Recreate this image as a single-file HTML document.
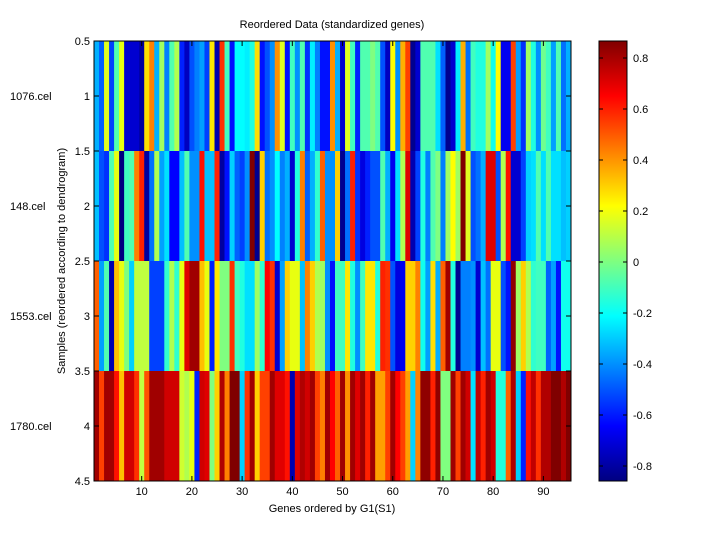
<!DOCTYPE html>
<html><head><meta charset="utf-8"><style>
html,body{margin:0;padding:0;background:#fff;}
svg text{font-family:"Liberation Sans",sans-serif;font-size:11px;fill:#000;}
</style></head><body>
<svg id="s" width="720" height="540" xmlns="http://www.w3.org/2000/svg">
<defs>
<linearGradient id="jet" x1="0" y1="1" x2="0" y2="0">
<stop offset="0" stop-color="#000080"/>
<stop offset="0.125" stop-color="#0000ff"/>
<stop offset="0.375" stop-color="#00ffff"/>
<stop offset="0.625" stop-color="#ffff00"/>
<stop offset="0.875" stop-color="#ff0000"/>
<stop offset="1" stop-color="#800000"/>
</linearGradient>
</defs>
<g id="cells"></g>
<rect x="94" y="41" width="477" height="440" fill="none" stroke="#000" stroke-width="1"/>
<rect x="599" y="41" width="28" height="440" fill="url(#jet)" stroke="#000" stroke-width="1"/>
<g id="ticks" stroke="#000" stroke-width="1"></g>
<g id="labels"></g>
<text x="332" y="28" text-anchor="middle">Reordered Data (standardized genes)</text>
<text x="332" y="512" text-anchor="middle">Genes ordered by G1(S1)</text>
<text transform="translate(65,261) rotate(-90)" text-anchor="middle">Samples (reordered according to dendrogram)</text>
<text x="10" y="100">1076.cel</text>
<text x="10" y="210">148.cel</text>
<text x="10" y="320">1553.cel</text>
<text x="10" y="430">1780.cel</text>
</svg>
<script>
const rows=[
"00b0ff 0060ff e0ff20 0040ff 50ffb0 e8ff10 0000d0 0000d0 0000d0 0000a0 ffe000 ff8000 00b0ff a0ff60 0080ff 50ffb0 b0ff50 0020ff 0000c0 0050ff 0080ff 00a0ff 0040ff ffe800 0000b0 ff3000 40ffc0 0010ff 00ffff 00ffff 00f0ff 20ffe0 ffe000 0010ff 0050ff 0090ff ff9000 e0ff20 0010ff 40ffc0 0090ff 50ffb0 0030ff 00f0ff 0080ff 0010ff 0010ff ff9000 00b0ff 0000d0 e0ff20 40ffc0 0020ff 50ffb0 50ffb0 80ff80 50ffb0 0050ff 0000c0 ffff00 0090ff ffb000 ff4000 000090 0000d0 50ffb0 50ffb0 50ffb0 00e0ff 0060ff 000090 0000d0 00f0ff ffb000 0070ff 40ffc0 20ffe0 20ffe0 a0ff60 10ffee ffff00 0000f0 0000f0 ff4000 00a0ff 0030ff a0ff60 20ffe0 0090ff 70ff90 40ffc0 00a0ff 50ffb0 0070ff 00b0ff",
"00c0ff 0050ff 0030ff 50ffb0 e8ff10 000080 40ffc0 50ffb0 ff8000 ff2000 0000a0 0070ff b0ff50 00a0ff 00e0ff 0000ff 0000ff 00c0ff 50ffb0 0090ff 0090ff ff1000 00c0ff 00c0ff ff2000 0000a0 0010ff 00d0ff 0060ff 0040ff 0090ff 800000 000090 ffd000 0070ff 0090ff 00ffff 0080ff 00b0ff 0000d0 20ffe0 ff8000 0060ff 00b0ff 30ffd0 ff6000 0090ff 0090ff ffd000 000090 0070ff ff2000 0030ff 0000e0 0020ff 0050ff 0050ff 50ffb0 00b0ff 0000f0 00e0ff b0ff50 e00000 0000b0 0040ff 20ffe0 0080ff 50ffb0 80ff80 0080ff a0ff60 ffff00 a0ff60 800000 e0ff20 0050ff 0070ff 00b0ff e00000 e00000 0050ff b0ff50 ff1000 0000d0 0000d0 0040ff 00d0ff 00e0ff 50ffb0 00e0ff 50ffb0 00e0ff 00e0ff 00c0ff 00d0ff",
"ff6000 00a0ff 50ffb0 0000b0 ffc000 e8ff10 80ff80 00d0ff c0ff40 c0ff40 c0ff40 0040ff 0040ff 0040ff 30ffd0 b0ff50 30ffd0 e8ff10 e00000 a00000 a00000 ffc000 e8ff10 0020ff ffe800 80ff80 80ff80 ff3000 40ffc0 20ffe0 00e0ff 00e0ff a0ff60 30ffd0 ff0000 ff3000 0000d0 00a0ff ffd000 e8ff10 e8ff10 00c0ff ff8000 ffd000 b0ff50 a0ff60 0090ff 0010ff 40ffc0 40ffc0 ffe800 20ffe0 0090ff 40ffc0 ffe800 ffe800 20ffe0 ff2000 ff3000 0050ff 0000e0 0000f0 ffd000 ffd000 ff8000 10ffee 00a0ff ffe000 00b0ff ff6000 a00000 20ffe0 000090 0080ff 0080ff 0090ff 0000d0 00c0ff 0070ff e8ff10 e8ff10 0050ff 0010ff 900000 a0ff60 ffd000 b0ff50 30ffd0 40ffc0 40ffc0 0060ff 00a0ff 0010ff 10ffee 10ffee",
"a00000 ff4000 a00000 a00000 ff1000 ffc000 d00000 d00000 ff3000 c0ff40 ff5000 a00000 a00000 a00000 d00000 d00000 d00000 d0ff30 b0ff50 e8ff10 0020ff d00000 e00000 80ff80 ffd000 b00000 ff8000 800000 800000 00d0ff ff3000 a00000 ffd000 ff4000 ff4000 a00000 e00000 e00000 ff1000 0000b0 e00000 b00000 d00000 a00000 ff4000 ff8000 a00000 ff0000 ff6000 a00000 ff9000 a00000 e00000 a00000 ff2000 a00000 ffa000 ffa000 ff4000 a00000 ff0000 ff4000 ffa000 00d0ff ff8000 900000 900000 ff2000 900000 80ff80 80ff80 a00000 ff4000 a00000 d00000 00e0ff c00000 ff2000 a00000 d00000 20ffe0 20ffe0 ff6000 b00000 00d0ff 0020ff ff1000 c00000 ff3000 b00000 b00000 800000 800000 b00000 800000"];
const NS="http://www.w3.org/2000/svg";
const g=document.getElementById('cells');
const cw=477/95;
rows.forEach((r,i)=>{r.split(' ').forEach((c,j)=>{const e=document.createElementNS(NS,'rect');
e.setAttribute('x',94+j*cw);e.setAttribute('y',41+i*110);e.setAttribute('width',cw+0.4);e.setAttribute('height',110);e.setAttribute('fill','#'+c);g.appendChild(e);});});
const t=document.getElementById('ticks'),L=document.getElementById('labels');
function ln(x1,y1,x2,y2){const e=document.createElementNS(NS,'line');e.setAttribute('x1',x1);e.setAttribute('y1',y1);e.setAttribute('x2',x2);e.setAttribute('y2',y2);t.appendChild(e);}
function tx(x,y,s,a){const e=document.createElementNS(NS,'text');e.setAttribute('x',x);e.setAttribute('y',y);e.setAttribute('text-anchor',a);e.textContent=s;L.appendChild(e);}
for(let k=1;k<=9;k++){const x=94+(k*10-0.5)*cw;ln(x,481,x,476);ln(x,41,x,46);tx(x,495,String(k*10),'middle');}
for(let k=0;k<=8;k++){const v=0.5+k*0.5;const y=41+k*55;ln(94,y,99,y);ln(571,y,566,y);tx(90,y+4,String(v),'end');}
for(let k=-4;k<=4;k++){const v=k*0.2;const y=262-k*51;ln(599,y,603,y);ln(627,y,623,y);tx(633,y+4,(Math.abs(v)<1e-9?'0':v.toFixed(1)),'start');}
</script>
</body></html>
